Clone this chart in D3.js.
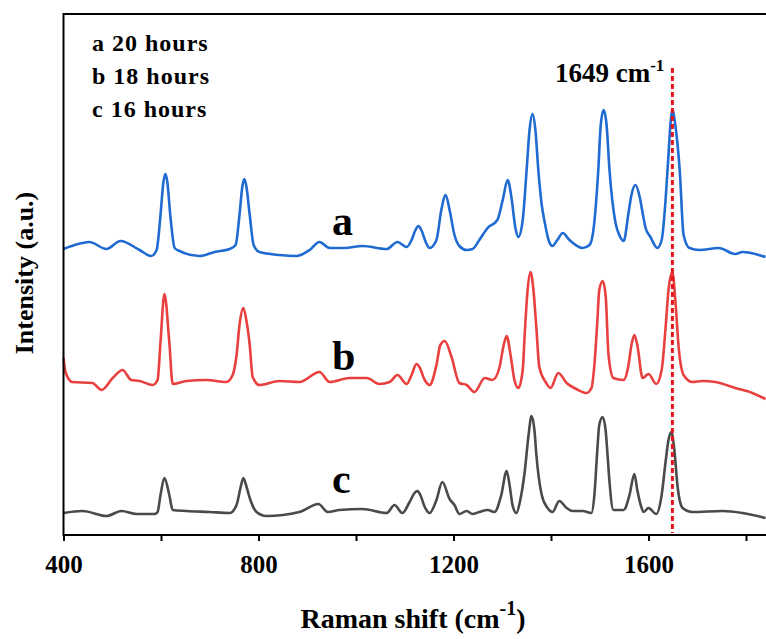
<!DOCTYPE html>
<html>
<head>
<meta charset="utf-8">
<script src="https://cdn.jsdelivr.net/npm/d3@7"></script>
<style>
  body { margin: 0; background: #fff; }
  text { font-family: "Liberation Serif", "Times New Roman", serif; font-weight: bold; fill: #000; }
</style>
</head>
<body>
<svg width="766" height="639"></svg>
<script>
// Raman shift (cm-1) and offset intensity (a.u.)
var spectrumA = [
  [400,288],[423,292],[453,295],[488,288],[517,296],[556,287],[580,281],[591,287],[599,322],[605,355],
  [609,363],[613,355],[619,322],[628,289],[638,286],[679,281],[710,285],[741,288],[753,292],[761,322],
  [767,351],[771,358],[775,351],[782,322],[790,292],[802,285],[843,282],[878,281],[905,287],[925,295],
  [946,289],[976,289],[1013,291],[1063,288],[1085,295],[1104,290],[1114,297],[1122,307],[1128,311],[1134,307],
  [1143,295],[1151,289],[1165,297],[1175,327],[1184,342],[1192,327],[1202,302],[1212,291],[1227,287],[1239,288],
  [1253,297],[1270,309],[1290,317],[1301,337],[1311,357],[1319,339],[1327,309],[1333,300],[1342,317],[1350,367],
  [1356,407],[1362,423],[1368,407],[1374,367],[1381,332],[1387,315],[1395,297],[1403,291],[1413,297],[1424,304],
  [1438,297],[1465,289],[1479,292],[1487,307],[1497,367],[1502,412],[1508,427],[1514,412],[1520,367],[1532,315],
  [1541,301],[1549,296],[1559,324],[1565,342],[1573,352],[1582,340],[1588,324],[1594,309],[1604,300],[1618,289],
  [1627,297],[1635,337],[1639,367],[1649,427],[1655,412],[1664,367],[1672,302],[1684,289],[1705,287],[1744,289],
  [1778,283],[1793,285],[1840,280]
];
var spectrumB = [
  [400,179],[404,165],[418,155],[459,154],[478,147],[501,159],[521,167],[539,157],[556,156],[583,152],
  [593,157],[599,195],[607,243],[617,195],[624,153],[652,156],[693,157],[734,155],[747,162],[755,182],
  [761,212],[769,229],[775,217],[782,192],[788,160],[802,152],[843,156],[884,155],[925,165],[946,155],
  [987,159],[1022,159],[1048,153],[1069,155],[1085,162],[1104,153],[1114,162],[1124,173],[1130,170],[1141,157],
  [1151,152],[1165,172],[1173,192],[1182,196],[1196,180],[1212,154],[1227,152],[1243,145],[1264,159],[1280,157],
  [1294,169],[1303,192],[1309,201],[1317,182],[1325,157],[1333,149],[1342,167],[1346,202],[1352,247],[1358,265],
  [1364,247],[1370,209],[1376,170],[1389,155],[1399,149],[1415,164],[1432,154],[1452,148],[1473,144],[1483,149],
  [1489,172],[1495,215],[1499,247],[1506,256],[1512,242],[1518,182],[1528,159],[1549,157],[1559,172],[1565,192],
  [1571,202],[1577,192],[1588,159],[1600,163],[1616,153],[1627,167],[1635,209],[1641,247],[1649,265],[1655,237],
  [1662,189],[1672,162],[1690,155],[1711,156],[1737,155],[1778,149],[1813,144],[1840,138]
];
var spectrumC = [
  [400,24],[439,26],[488,21],[519,26],[550,23],[587,23],[593,25],[599,42],[607,59],[617,42],
  [624,27],[652,26],[699,25],[741,24],[755,32],[763,49],[769,59],[775,51],[782,39],[796,25],
  [816,21],[884,25],[923,33],[942,25],[966,27],[1013,28],[1063,24],[1079,32],[1095,24],[1110,35],
  [1120,44],[1126,46],[1132,42],[1141,30],[1151,24],[1165,37],[1177,55],[1192,38],[1202,32],[1212,23],
  [1227,26],[1239,23],[1253,25],[1270,27],[1284,25],[1298,42],[1309,66],[1315,52],[1321,32],[1329,24],
  [1337,37],[1346,65],[1354,102],[1360,121],[1366,107],[1370,82],[1381,42],[1393,29],[1403,25],[1417,36],
  [1432,29],[1444,26],[1465,26],[1483,24],[1489,42],[1495,87],[1499,112],[1506,120],[1512,107],[1516,82],
  [1520,55],[1528,27],[1549,27],[1561,42],[1571,63],[1577,47],[1584,32],[1590,25],[1600,29],[1616,23],
  [1627,42],[1635,75],[1641,97],[1647,105],[1653,87],[1660,49],[1670,29],[1690,25],[1752,26],[1793,24],
  [1840,19]
];
var seriesNames = ["a", "b", "c"];
var legendLabels = ["a 20 hours", "b 18 hours", "c 16 hours"];
var xTicks = [400, 600, 800, 1000, 1200, 1400, 1600, 1800];
var markerShift = 1649;

var svg = d3.select("svg");
var colors = ["#1f6bd2", "#e8403f", "#4a4a4a"];

var x = d3.scaleLinear().domain([400, 1900]).range([63.5, 794.75]);
var y = d3.scaleLinear().domain([2, 523]).range([535, 14]);

var line = d3.line()
    .x(function (d) { return x(d[0]); })
    .y(function (d) { return y(d[1]); })
    .curve(d3.curveMonotoneX);

// curves
var curveGroup = svg.append("g").attr("class", "curves");
[spectrumA, spectrumB, spectrumC].forEach(function (s, i) {
    curveGroup.append("path")
        .datum(s)
        .attr("fill", "none")
        .attr("stroke", colors[i])
        .attr("stroke-width", 2.6)
        .attr("stroke-linejoin", "round")
        .attr("d", line);
});

// dashed marker
svg.append("line")
    .attr("x1", x(markerShift)).attr("x2", x(markerShift))
    .attr("y1", 68).attr("y2", 533)
    .attr("stroke", "#e3171b")
    .attr("stroke-width", 3)
    .attr("stroke-dasharray", "5,3");

var mk = svg.append("text")
    .attr("x", x(markerShift) - 8)
    .attr("y", 82)
    .attr("text-anchor", "end")
    .style("font-size", "27px");
mk.append("tspan").text("1649 cm");
mk.append("tspan").text("-1").attr("dy", -11).style("font-size", "17px");

// frame
svg.append("path")
    .attr("d", "M" + x(1900) + ",14H63.5V535H" + x(1900))
    .attr("fill", "none")
    .attr("stroke", "#000")
    .attr("stroke-width", 2);

// x axis
var xAxis = svg.append("g")
    .attr("transform", "translate(0,535)")
    .call(d3.axisBottom(x).tickValues(xTicks).tickSize(6).tickPadding(14)
        .tickFormat(function (d) { return d % 400 === 0 ? d : ""; }));
xAxis.select(".domain").remove();
xAxis.selectAll(".tick line").attr("stroke", "#000").attr("stroke-width", 2);
xAxis.selectAll(".tick text")
    .attr("fill", "#000")
    .style("font-family", "'Liberation Serif', serif")
    .style("font-weight", "bold")
    .style("font-size", "25px");

// axis titles
var xt = svg.append("text")
    .attr("x", 413).attr("y", 628)
    .attr("text-anchor", "middle")
    .style("font-size", "28px");
xt.append("tspan").text("Raman shift (cm");
xt.append("tspan").text("-1").attr("dy", -13).style("font-size", "20px");
xt.append("tspan").text(")").attr("dy", 13);

svg.append("text")
    .attr("transform", "translate(33,273) rotate(-90)")
    .attr("text-anchor", "middle")
    .style("font-size", "26px")
    .text("Intensity (a.u.)");

// legend
svg.selectAll("text.legend")
    .data(legendLabels)
    .enter().append("text")
    .attr("class", "legend")
    .attr("x", 92)
    .attr("y", function (d, i) { return 51 + i * 33; })
    .style("font-size", "24px")
    .style("letter-spacing", "1px")
    .text(function (d) { return d; });

// curve labels
var labelY = [235, 370, 493];
svg.selectAll("text.curve-label")
    .data(seriesNames)
    .enter().append("text")
    .attr("class", "curve-label")
    .attr("x", 332)
    .attr("y", function (d, i) { return labelY[i]; })
    .style("font-size", "42px")
    .text(function (d) { return d; });
</script>
</body>
</html>
